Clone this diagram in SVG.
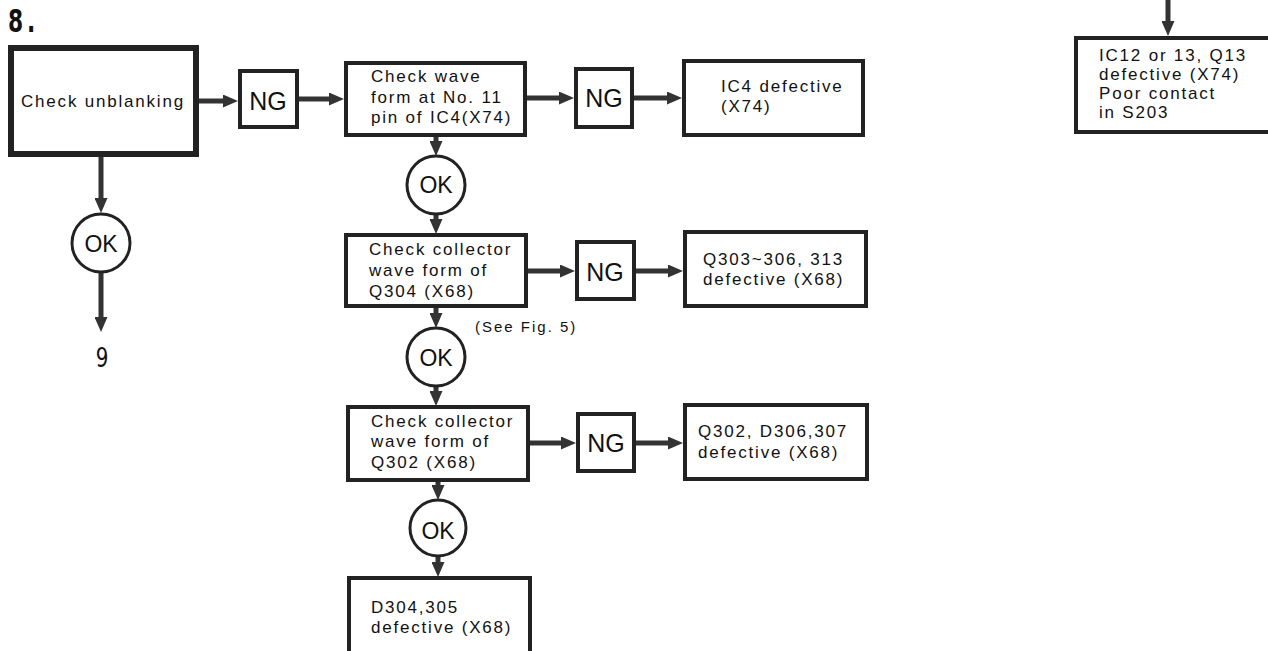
<svg xmlns="http://www.w3.org/2000/svg" width="1268" height="651" viewBox="0 0 1268 651">
<style>
.box{fill:#fff;stroke:#222;stroke-width:4}
.thick{stroke-width:6}
.circ{fill:#fff;stroke:#222;stroke-width:3}
.t{font-family:"Liberation Sans",Arial,sans-serif;font-size:17px;letter-spacing:1.8px;fill:#111}
.ng{font-family:"Liberation Sans",Arial,sans-serif;font-size:25px;fill:#111;text-anchor:middle}
.ok{font-family:"Liberation Sans",Arial,sans-serif;font-size:23px;fill:#111;text-anchor:middle}
.small{font-family:"Liberation Sans",Arial,sans-serif;font-size:15px;letter-spacing:2px;fill:#111}
.num{font-family:"DejaVu Sans Condensed","Liberation Sans",sans-serif;fill:#111}
.conn line{stroke:#333;stroke-width:5}
</style>
<defs>
<marker id="ah" markerUnits="userSpaceOnUse" markerWidth="15" markerHeight="13" refX="1" refY="6.5" orient="auto">
<path d="M0,0 L15,6.5 L0,13 z" fill="#333"/>
</marker>
</defs>
<rect width="1268" height="651" fill="#fff"/>
<text class="num" transform="translate(8,32) scale(0.78,1.05)" font-size="31" font-weight="bold" letter-spacing="5">8.</text>
<g class="conn">
<line x1="199" y1="101" x2="224" y2="101" marker-end="url(#ah)"/>
<line x1="299" y1="99" x2="330" y2="99" marker-end="url(#ah)"/>
<line x1="527" y1="98" x2="560" y2="98" marker-end="url(#ah)"/>
<line x1="634" y1="98" x2="668" y2="98" marker-end="url(#ah)"/>
<line x1="528" y1="271" x2="561" y2="271" marker-end="url(#ah)"/>
<line x1="636" y1="271" x2="669" y2="271" marker-end="url(#ah)"/>
<line x1="530" y1="443" x2="562" y2="443" marker-end="url(#ah)"/>
<line x1="636" y1="443" x2="669" y2="443" marker-end="url(#ah)"/>
<line x1="101" y1="157" x2="101" y2="199" marker-end="url(#ah)"/>
<line x1="101" y1="273" x2="101" y2="318" marker-end="url(#ah)"/>
<line x1="436" y1="137" x2="436" y2="142" marker-end="url(#ah)"/>
<line x1="436" y1="215" x2="436" y2="220" marker-end="url(#ah)"/>
<line x1="436" y1="308" x2="436" y2="314" marker-end="url(#ah)"/>
<line x1="436" y1="387" x2="436" y2="392" marker-end="url(#ah)"/>
<line x1="438" y1="482" x2="438" y2="486" marker-end="url(#ah)"/>
<line x1="438" y1="557" x2="438" y2="563" marker-end="url(#ah)"/>
<line x1="1168" y1="0" x2="1168" y2="22" marker-end="url(#ah)"/>
</g>
<g id="n-unblank"><rect class="box thick" x="11" y="48" width="185" height="106"/><text class="t" x="21" y="107">Check unblanking</text></g>
<g id="n-ng1"><rect class="box" x="240" y="71" width="57" height="56"/><text class="ng" x="268" y="110">NG</text></g>
<g id="n-wave"><rect class="box" x="346" y="63" width="179" height="72"/><text class="t" x="371" y="82">Check wave</text><text class="t" x="371" y="103">form at No. 11</text><text class="t" x="371" y="123">pin of IC4(X74)</text></g>
<g id="n-ng2"><rect class="box" x="576" y="69" width="56" height="58"/><text class="ng" x="604" y="107">NG</text></g>
<g id="n-ic4"><rect class="box" x="684" y="61" width="179" height="74"/><text class="t" x="721" y="92">IC4 defective</text><text class="t" x="721" y="112">(X74)</text></g>
<g id="n-ok1"><circle class="circ" cx="436" cy="185" r="29"/><text class="ok" x="436" y="193">OK</text></g>
<g id="n-q304"><rect class="box" x="346" y="235" width="180" height="71"/><text class="t" x="369" y="255">Check collector</text><text class="t" x="369" y="276">wave form of</text><text class="t" x="369" y="297">Q304 (X68)</text></g>
<g id="n-ng3"><rect class="box" x="577" y="242" width="57" height="57"/><text class="ng" x="605" y="281">NG</text></g>
<g id="n-q303"><rect class="box" x="685" y="232" width="181" height="74"/><text class="t" x="703" y="265">Q303~306, 313</text><text class="t" x="703" y="285">defective (X68)</text></g>
<text class="small" x="475" y="332">(See Fig. 5)</text>
<g id="n-ok2"><circle class="circ" cx="436" cy="357" r="29"/><text class="ok" x="436" y="366">OK</text></g>
<g id="n-q302"><rect class="box" x="348" y="407" width="180" height="73"/><text class="t" x="371" y="427">Check collector</text><text class="t" x="371" y="447">wave form of</text><text class="t" x="371" y="468">Q302 (X68)</text></g>
<g id="n-ng4"><rect class="box" x="578" y="414" width="56" height="57"/><text class="ng" x="606" y="452">NG</text></g>
<g id="n-q302d"><rect class="box" x="685" y="405" width="182" height="74"/><text class="t" x="698" y="437">Q302, D306,307</text><text class="t" x="698" y="458">defective (X68)</text></g>
<g id="n-ok3"><circle class="circ" cx="438" cy="528" r="28"/><text class="ok" x="438" y="539">OK</text></g>
<g id="n-d304"><rect class="box" x="349" y="578" width="181" height="90"/><text class="t" x="371" y="613">D304,305</text><text class="t" x="371" y="633">defective (X68)</text></g>
<g id="n-okleft"><circle class="circ" cx="101" cy="243" r="29"/><text class="ok" x="101" y="252">OK</text></g>
<text class="num" transform="translate(102,367) scale(0.85,1)" font-size="26" text-anchor="middle">9</text>
<g id="n-ic12"><rect class="box" x="1076" y="38" width="200" height="94"/><text class="t" x="1099" y="61">IC12 or 13, Q13</text><text class="t" x="1099" y="80">defective (X74)</text><text class="t" x="1099" y="99">Poor contact</text><text class="t" x="1099" y="118">in S203</text></g>
</svg>
